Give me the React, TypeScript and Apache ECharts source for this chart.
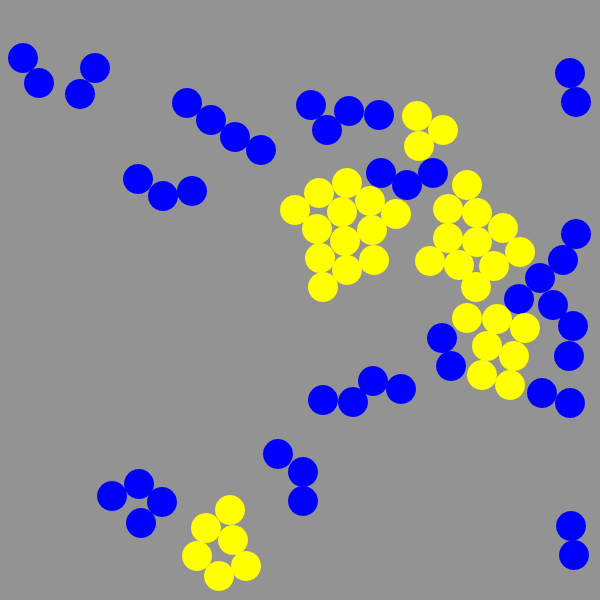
import React, { useEffect, useRef } from "react";
import * as echarts from "echarts";

const blueX = [23, 39, 95, 80, 187, 211, 235, 261, 138, 163, 192, 311, 327, 349, 379, 570, 576, 381, 407, 433, 576, 563, 540, 519, 553, 442, 451, 573, 569, 542, 570, 373, 401, 323, 353, 278, 303, 303, 112, 139, 162, 141, 571, 574];
const blueY = [58, 83, 68, 94, 103, 120, 137, 150, 179, 196, 191, 105, 130, 111, 115, 73, 102, 173, 185, 173, 234, 260, 278, 299, 305, 338, 366, 326, 356, 393, 403, 381, 389, 400, 402, 454, 472, 501, 496, 484, 502, 523, 526, 555];
const yellowX = [295, 417, 443, 419, 319, 347, 370, 396, 342, 317, 372, 345, 320, 374, 347, 323, 467, 448, 477, 503, 448, 477, 520, 430, 459, 494, 476, 467, 497, 525, 487, 514, 482, 510, 230, 206, 233, 197, 219, 246];
const yellowY = [210, 116, 130, 146, 193, 183, 201, 214, 212, 229, 230, 241, 258, 260, 270, 287, 185, 209, 213, 228, 238, 242, 252, 261, 265, 266, 287, 318, 319, 328, 346, 356, 375, 385, 510, 528, 540, 556, 576, 566];

const zip = (xs: number[], ys: number[]) => xs.map((x, i) => [x, ys[i]]);

export default function App() {
  const ref = useRef<HTMLDivElement>(null);
  useEffect(() => {
    if (!ref.current) return;
    const chart = echarts.init(ref.current, undefined, { renderer: "svg" });
    chart.setOption({
      animation: false,
      backgroundColor: "#939393",
      grid: { left: 0, right: 0, top: 0, bottom: 0 },
      xAxis: { type: "value", min: 0, max: 600, show: false },
      yAxis: { type: "value", min: 0, max: 600, inverse: true, show: false },
      series: [
        {
          type: "scatter",
          symbol: "circle",
          symbolSize: 30,
          itemStyle: { color: "#0000ff", opacity: 1 },
          data: zip(blueX, blueY),
        },
        {
          type: "scatter",
          symbol: "circle",
          symbolSize: 30,
          itemStyle: { color: "#ffff00", opacity: 1 },
          data: zip(yellowX, yellowY),
        },
      ],
    });
    return () => chart.dispose();
  }, []);
  return (
    <div
      ref={ref}
      style={{ position: "fixed", left: 0, top: 0, width: 600, height: 600 }}
    />
  );
}
